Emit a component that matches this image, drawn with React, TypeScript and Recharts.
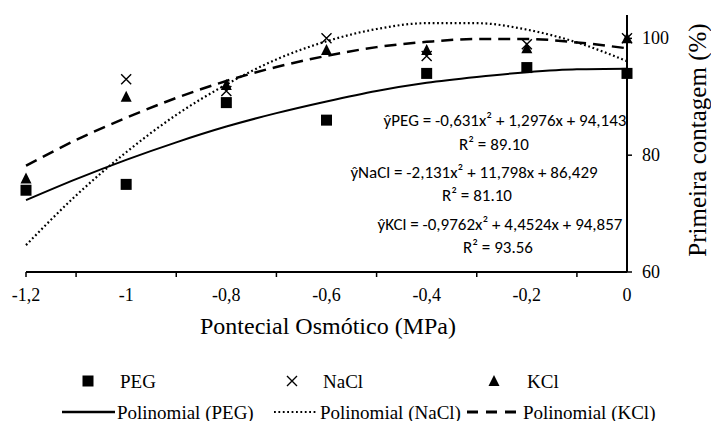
import React from 'react';
import { ComposedChart, Line, Scatter, XAxis, YAxis } from 'recharts';

// potencial osmótico (MPa)
const fitX = [-1.2, -1.1, -1, -0.9, -0.8, -0.7, -0.6, -0.5, -0.4, -0.3, -0.2, -0.1, 0];
const labelledTicks = [-1.2, -1, -0.8, -0.6, -0.4, -0.2, 0];
const tickMarks = [-1.2, -1.1, -0.9, -0.7, -0.5, -0.3, -0.1];
const yTicks = [60, 80, 100];

// observed values (%)
const pointX = [-1.2, -1, -0.8, -0.6, -0.4, -0.2, 0];
const pegValues = [74, 75, 89, 86, 94, 95, 94];
const naclValues = [null, 93, 91, 100, 97, 99, 100];
const kclValues = [76, 90, 92, 98, 98, 98.3, 100];

// trend lines
const pegFit = [72.3, 75.9, 79.2, 82.2, 84.9, 87.2, 89.2, 91.0, 92.4, 93.4, 94.2, 94.7, 94.8];
const naclFit = [64.6, 73.1, 80.5, 86.9, 92.1, 96.4, 99.5, 101.6, 102.6, 102.6, 101.5, 99.3, 96.1];
const kclFit = [78.2, 82.6, 86.4, 89.8, 92.7, 95.1, 97.0, 98.5, 99.4, 99.9, 99.9, 99.3, 98.3];

const equations = [
  { text: 'ŷPEG = -0,631x² + 1,2976x + 94,143', x: 505, y: 120 },
  { text: 'R² = 89.10', x: 494, y: 144 },
  { text: 'ŷNaCl = -2,131x² + 11,798x + 86,429', x: 474, y: 172 },
  { text: 'R² = 81.10', x: 477, y: 195 },
  { text: 'ŷKCl = -0,9762x² + 4,4524x + 94,857', x: 500, y: 224 },
  { text: 'R² = 93.56', x: 498, y: 247 },
];

const legendLabels = [
  { text: 'PEG', x: 120, y: 381 },
  { text: 'NaCl', x: 323, y: 381 },
  { text: 'KCl', x: 527, y: 381 },
  { text: 'Polinomial (PEG)', x: 117, y: 412 },
  { text: 'Polinomial (NaCl)', x: 320, y: 412 },
  { text: 'Polinomial (KCl)', x: 523, y: 412 },
];

const SERIF = 'Liberation Serif';
const serifCss = "'Liberation Serif', serif";
const sansCss = "'Carlito', sans-serif";

const fitData = fitX.map((x, i) => ({ x, peg: pegFit[i], nacl: naclFit[i], kcl: kclFit[i] }));
const toPoints = (vals: (number | null)[]) =>
  pointX.map((x, i) => ({ x, y: vals[i] })).filter((p) => p.y !== null);

const SquareDot = (p: any) => <rect x={p.cx - 5.5} y={p.cy - 5.5} width={11} height={11} fill="#000" />;
const CrossDot = (p: any) => (
  <path
    d={`M${p.cx - 5},${p.cy - 5}L${p.cx + 5},${p.cy + 5}M${p.cx + 5},${p.cy - 5}L${p.cx - 5},${p.cy + 5}`}
    stroke="#000"
    strokeWidth={1.4}
  />
);
const TriangleDot = (p: any) => (
  <path d={`M${p.cx},${p.cy - 6}L${p.cx + 5.5},${p.cy + 5}L${p.cx - 5.5},${p.cy + 5}Z`} fill="#000" />
);

function XTick(props: any) {
  const { x, y, payload } = props;
  const v = payload.value;
  const axisY = y - 7;
  return (
    <g>
      {tickMarks.includes(v) && (
        <line x1={x} x2={x} y1={axisY} y2={axisY + 5} stroke="#000" strokeWidth={1.5} />
      )}
      {labelledTicks.includes(v) && (
        <text x={x} y={axisY + 29} textAnchor="middle" fontFamily={SERIF} fontSize={18} fill="#000">
          {String(v).replace('.', ',')}
        </text>
      )}
    </g>
  );
}

function YTick(props: any) {
  const { x, y, payload } = props;
  return (
    <text x={x} y={y} dy={6} textAnchor="start" fontFamily={SERIF} fontSize={18} fill="#000">
      {payload.value}
    </text>
  );
}

const abs = (x: number, y: number, tf: string): React.CSSProperties => ({
  position: 'absolute',
  left: x,
  top: y,
  transform: tf,
  whiteSpace: 'nowrap',
  lineHeight: 1,
  color: '#000',
});

export default function App() {
  return (
    <div style={{ position: 'absolute', left: 0, top: 0, width: 711, height: 421, background: '#fff' }}>
      <ComposedChart width={711} height={421} data={fitData} margin={{ top: 15, right: 34, bottom: 119, left: 26 }}>
        <XAxis
          type="number"
          dataKey="x"
          domain={[-1.2, 0]}
          ticks={fitX}
          interval={0}
          tick={<XTick />}
          tickLine={false}
          tickSize={5}
          tickMargin={2}
          height={30}
          axisLine={{ stroke: '#000', strokeWidth: 2 }}
        />
        <YAxis
          orientation="right"
          domain={[60, 104]}
          ticks={yTicks}
          allowDataOverflow
          width={50}
          tickSize={5}
          tickMargin={10}
          tickLine={{ stroke: '#000', strokeWidth: 1.5 }}
          axisLine={{ stroke: '#000', strokeWidth: 2 }}
          tick={<YTick />}
        />
        <Line type="monotone" dataKey="peg" stroke="#000" strokeWidth={2} dot={false} isAnimationActive={false} />
        <Line
          type="monotone"
          dataKey="nacl"
          stroke="#000"
          strokeWidth={2.2}
          strokeDasharray="1.8 2.6"
          dot={false}
          isAnimationActive={false}
        />
        <Line
          type="monotone"
          dataKey="kcl"
          stroke="#000"
          strokeWidth={2.5}
          strokeDasharray="12 7"
          dot={false}
          isAnimationActive={false}
        />
        <Scatter data={toPoints(pegValues)} dataKey="y" shape={SquareDot} isAnimationActive={false} />
        <Scatter data={toPoints(naclValues)} dataKey="y" shape={CrossDot} isAnimationActive={false} />
        <Scatter data={toPoints(kclValues)} dataKey="y" shape={TriangleDot} isAnimationActive={false} />
      </ComposedChart>

      {/* legend symbols */}
      <svg width={711} height={421} style={{ position: 'absolute', left: 0, top: 0, pointerEvents: 'none' }}>
        <rect x={82.5} y={375.5} width={11} height={11} fill="#000" />
        <path d="M287,376L297,386M297,376L287,386" stroke="#000" strokeWidth={1.4} />
        <path d="M494,375L499.5,386L488.5,386Z" fill="#000" />
        <line x1={62} x2={115} y1={412} y2={412} stroke="#000" strokeWidth={2.5} />
        <line x1={274} x2={316} y1={412} y2={412} stroke="#000" strokeWidth={2.2} strokeDasharray="1.8 2.6" />
        <line x1={467} x2={520} y1={412} y2={412} stroke="#000" strokeWidth={3} strokeDasharray="11 8" />
      </svg>

      {equations.map((e) => (
        <div key={e.text} style={{ ...abs(e.x, e.y, 'translate(-50%,-50%)'), fontFamily: sansCss, fontSize: 17 }}>
          {e.text}
        </div>
      ))}
      {legendLabels.map((l) => (
        <div key={l.text} style={{ ...abs(l.x, l.y, 'translate(0,-50%)'), fontFamily: serifCss, fontSize: 19 }}>
          {l.text}
        </div>
      ))}
      <div style={{ ...abs(328, 326, 'translate(-50%,-50%)'), fontFamily: serifCss, fontSize: 24 }}>
        Pontecial Osmótico (MPa)
      </div>
      <div style={{ ...abs(697, 140, 'translate(-50%,-50%) rotate(-90deg)'), fontFamily: serifCss, fontSize: 25 }}>
        Primeira contagem (%)
      </div>
    </div>
  );
}
